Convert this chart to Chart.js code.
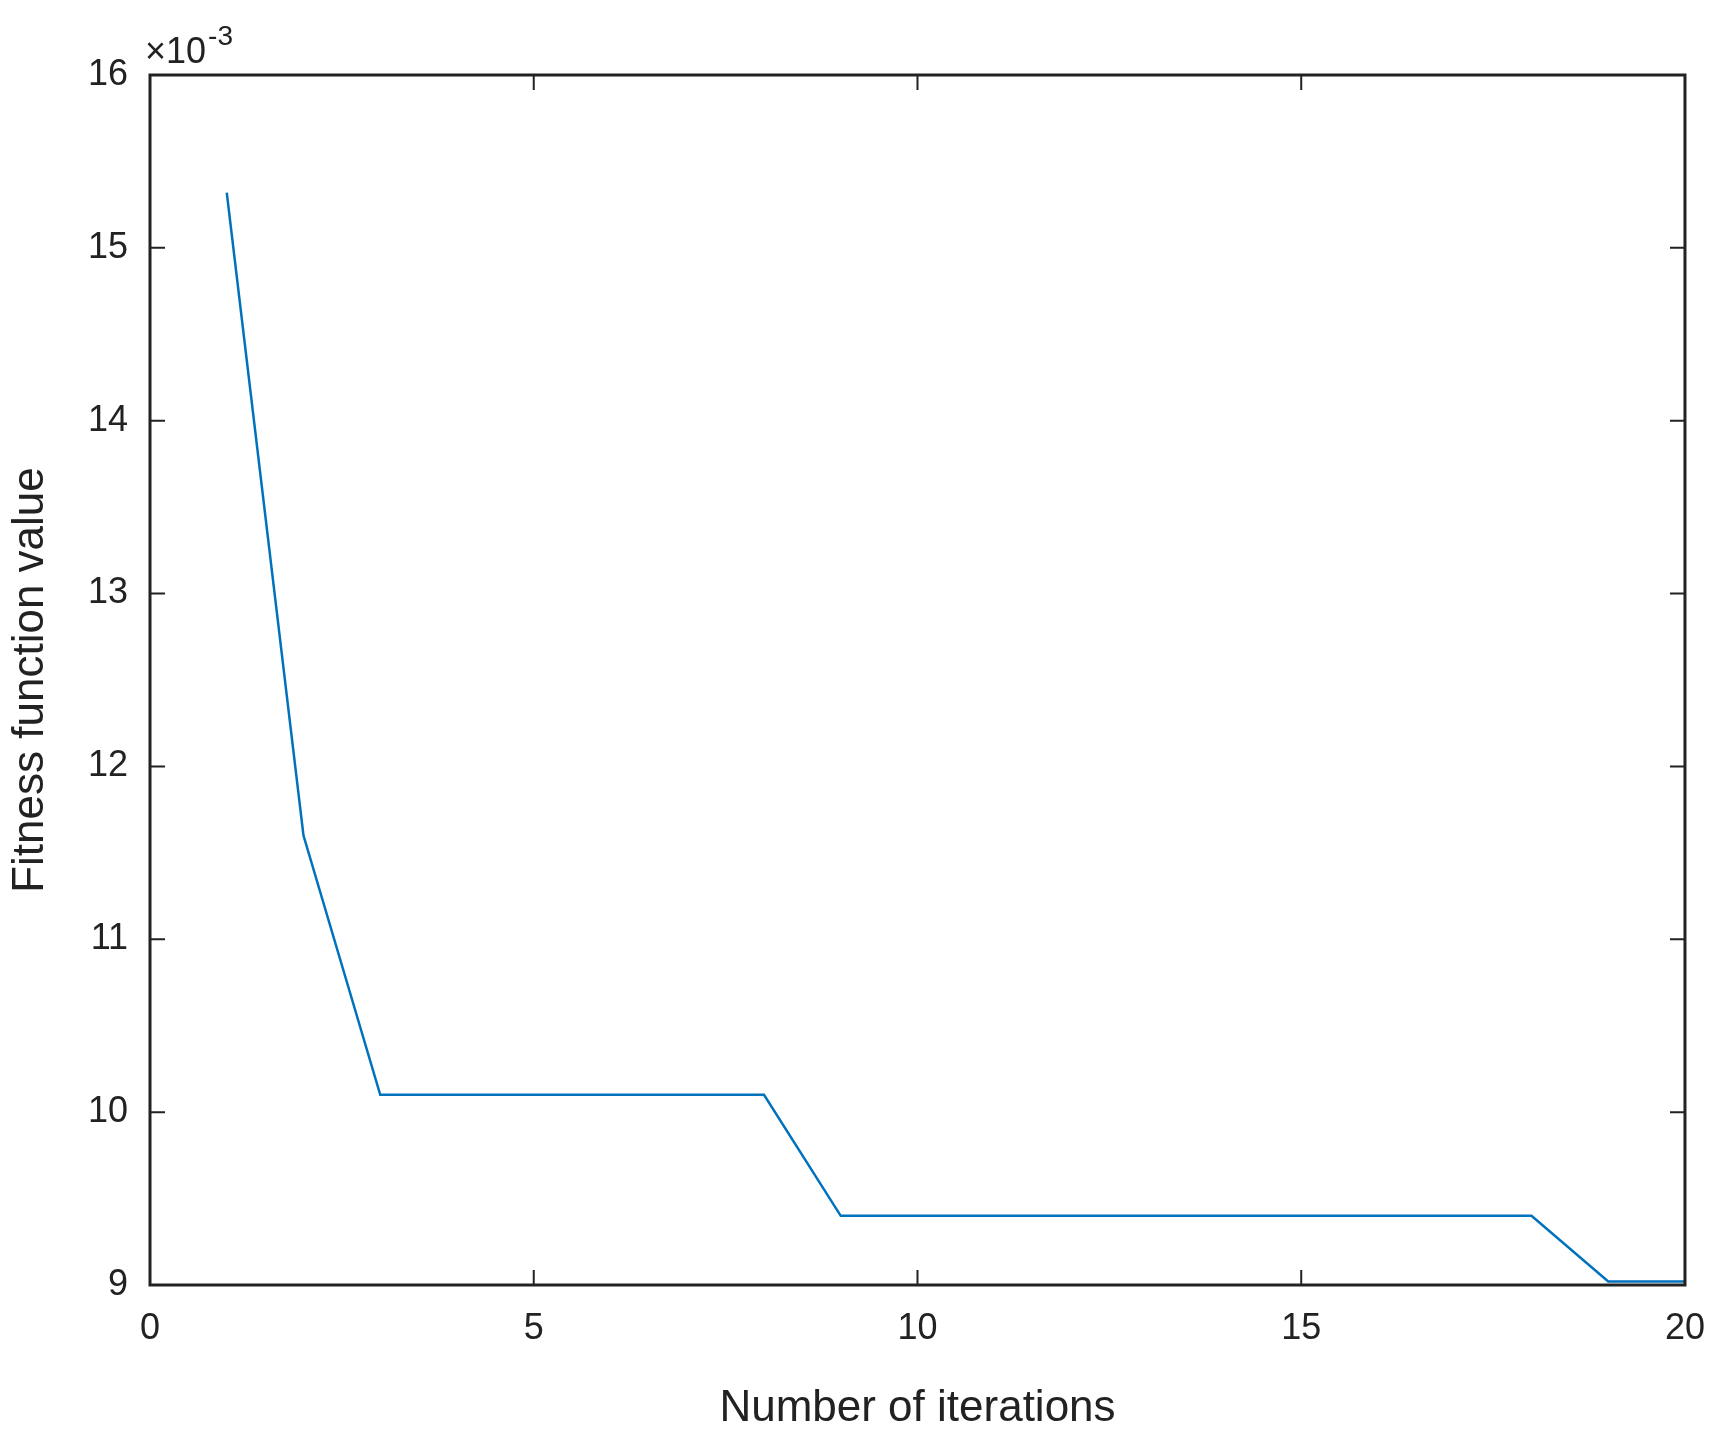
<!DOCTYPE html>
<html><head><meta charset="utf-8">
<script src="https://cdn.jsdelivr.net/npm/chart.js@4"></script>
<style>html,body{margin:0;background:#fff}#wrap{width:1719px;height:1439px}</style>
</head><body><div id="wrap"><canvas id="c"></canvas></div>
<script>
const iterations = [1,2,3,4,5,6,7,8,9,10,11,12,13,14,15,16,17,18,19,20];
const fitness = [15.32,11.6,10.1,10.1,10.1,10.1,10.1,10.1,9.4,9.4,9.4,9.4,9.4,9.4,9.4,9.4,9.4,9.4,9.02,9.02];
const xTicks = [0,5,10,15,20];
const yTicks = [9,10,11,12,13,14,15,16];

const boxPlugin = {
  id: 'box',
  afterDraw(chart) {
    const {ctx, chartArea: a, scales} = chart;
    ctx.save();
    ctx.strokeStyle = '#222'; ctx.lineWidth = 3;
    ctx.strokeRect(a.left, a.top, a.right - a.left, a.bottom - a.top);
    ctx.lineWidth = 2;
    xTicks.forEach(v => {
      const x = scales.x.getPixelForValue(v);
      ctx.beginPath(); ctx.moveTo(x, a.bottom); ctx.lineTo(x, a.bottom - 15);
      ctx.moveTo(x, a.top); ctx.lineTo(x, a.top + 15); ctx.stroke();
    });
    yTicks.forEach(v => {
      const y = scales.y.getPixelForValue(v);
      ctx.beginPath(); ctx.moveTo(a.left, y); ctx.lineTo(a.left + 15, y);
      ctx.moveTo(a.right, y); ctx.lineTo(a.right - 15, y); ctx.stroke();
    });
    ctx.fillStyle = '#222';
    ctx.font = '36px "Liberation Sans"';
    ctx.textBaseline = 'alphabetic';
    ctx.fillText('\u00d710', a.left - 5, a.top - 12);
    const w = ctx.measureText('\u00d710').width;
    ctx.font = '28px "Liberation Sans"';
    ctx.fillText('-3', a.left - 3 + w, a.top - 30);
    ctx.restore();
  }
};

new Chart(document.getElementById('c'), {
  type: 'line',
  data: {
    datasets: [{
      data: iterations.map((x, i) => ({x: x, y: fitness[i]})),
      borderColor: '#0072BD', borderWidth: 2.5, pointRadius: 0, tension: 0
    }]
  },
  options: {
    responsive: true, maintainAspectRatio: false, animation: false,
    layout: {padding: {top: 75, right: 34, left: 0, bottom: 0}},
    plugins: {legend: {display: false}, tooltip: {enabled: false}},
    scales: {
      x: {
        type: 'linear', min: 0, max: 20,
        grid: {display: false}, border: {display: false},
        afterBuildTicks: s => { s.ticks = xTicks.map(v => ({value: v})); },
        afterFit: s => { s.height = 154; },
        ticks: {color: '#222', font: {family: 'Liberation Sans', size: 36}, padding: 14, maxRotation: 0},
        title: {display: true, text: 'Number of iterations', color: '#222', font: {family: 'Liberation Sans', size: 44}, padding: {top: 8}}
      },
      y: {
        type: 'linear', min: 9, max: 16,
        grid: {display: false}, border: {display: false},
        afterBuildTicks: s => { s.ticks = yTicks.map(v => ({value: v})); },
        afterFit: s => { s.width = 150; },
        ticks: {color: '#222', font: {family: 'Liberation Sans', size: 36}, padding: 14},
        title: {display: true, text: 'Fitness function value', color: '#222', font: {family: 'Liberation Sans', size: 44}, padding: {bottom: 6}}
      }
    }
  },
  plugins: [boxPlugin]
});
</script></body></html>
